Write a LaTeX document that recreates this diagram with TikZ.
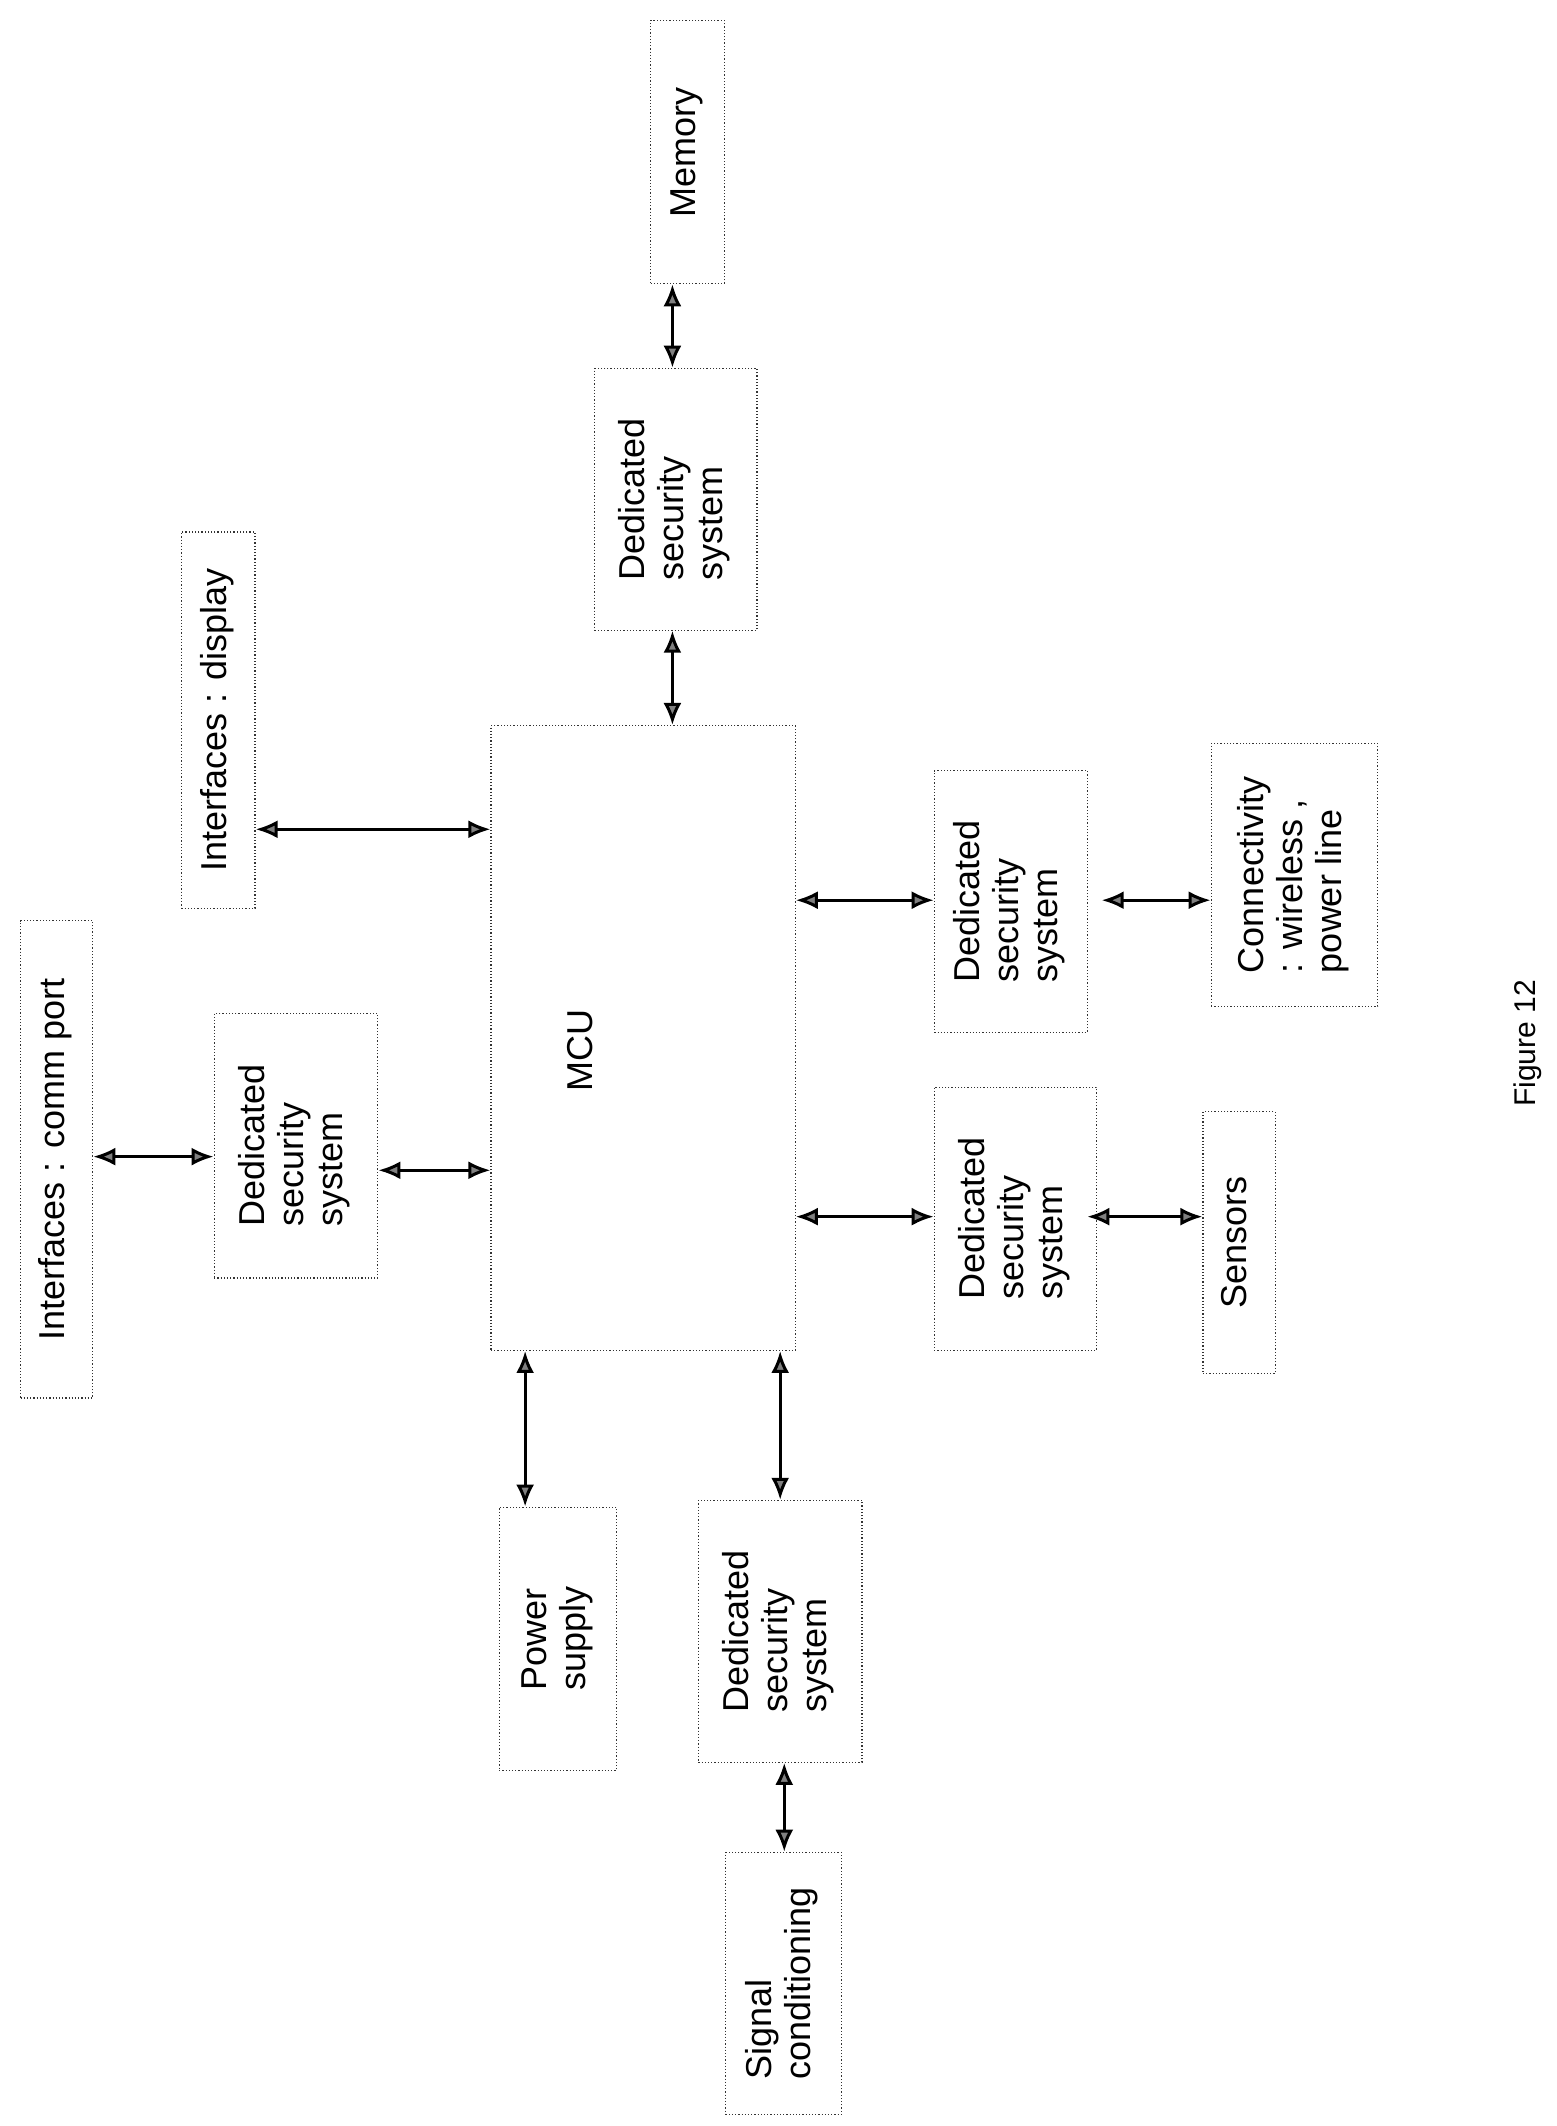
\documentclass[tikz,border=0pt]{standalone}
\usepackage{fontspec}
\setmainfont{Liberation Sans}
\usetikzlibrary{arrows.meta}
\begin{document}
\begin{tikzpicture}[x=0.682pt,y=-0.682pt,
  bx/.style={draw=black!80,densely dotted,line width=0.6pt,inner sep=0pt,font=\fontsize{18}{19.5}\selectfont},
  arr/.style={line width=1.5pt,{Latex[length=11pt,width=9pt,fill=gray]}-{Latex[length=11pt,width=9pt,fill=gray]}}]
\newcommand\rt[1]{\rotatebox{90}{\begin{tabular}{@{}l@{}}#1\end{tabular}}}
\useasboundingbox (0,0) rectangle (1140.8,1558.7);
\node[bx,minimum width=36.8pt,minimum height=131.6pt] (mem) at (504,111.5) {\raisebox{-20pt}{\rt{Memory}}};
\node[bx,minimum width=81.2pt,minimum height=130.9pt] (dsst) at (495.5,366) {\rt{Dedicated\\security\\system}};
\node[bx,minimum width=36.8pt,minimum height=188.2pt] (disp) at (160,528) {\rt{Interfaces : display}};
\node[bx,minimum width=152.1pt,minimum height=312.4pt] (mcu) at (471.5,761) {};
\node[font=\fontsize{18}{19.5}\selectfont] (mcut) at (425,770) {\rotatebox{90}{MCU}};
\node[bx,minimum width=36.1pt,minimum height=238.7pt] (comm) at (41.5,850) {\rt{Interfaces : comm port}};
\node[bx,minimum width=81.8pt,minimum height=132.3pt] (dssl) at (217,840) {\rt{Dedicated\\security\\system}};
\node[bx,minimum width=76.4pt,minimum height=130.9pt] (dssr1) at (741,661) {\rt{Dedicated\\security\\system}};
\node[bx,minimum width=83.2pt,minimum height=131.6pt] (conn) at (949,641.5) {\rt{Connectivity\\: wireless ,\\power line}};
\node[bx,minimum width=81.2pt,minimum height=131.6pt] (dssr2) at (744.5,893.5) {\rt{Dedicated\\security\\system}};
\node[bx,minimum width=36.1pt,minimum height=130.9pt] (sens) at (908.5,911) {\rt{Sensors}};
\node[bx,minimum width=58.7pt,minimum height=131.6pt] (pow) at (409,1201.5) {\rt{Power\\supply}};
\node[bx,minimum width=81.8pt,minimum height=130.9pt] (dssb) at (572,1196) {\rt{Dedicated\\security\\system}};
\node[bx,minimum width=58pt,minimum height=130.9pt] (sig) at (574.5,1454) {\rt{Signal\\conditioning}};
\node[font=\fontsize{15}{17}\selectfont] (fig) at (1120,765) {\rotatebox{90}{Figure 12}};
\coordinate (xa) at (493,0);
\coordinate (xb) at (385,0);
\coordinate (xc) at (572,0);
\coordinate (xd) at (575,0);
\coordinate (ya) at (0,608);
\coordinate (yb) at (0,848);
\coordinate (yc) at (0,858);
\coordinate (yd) at (0,660);
\coordinate (ye) at (0,892);
\draw[arr] (mem.south -| xa) -- (dsst.north -| xa);
\draw[arr] (dsst.south -| xa) -- (mcu.north -| xa);
\draw[arr] (disp.east |- ya) -- (mcu.west |- ya);
\draw[arr] (comm.east |- yb) -- (dssl.west |- yb);
\draw[arr] (dssl.east |- yc) -- (mcu.west |- yc);
\draw[arr] (mcu.east |- yd) -- (dssr1.west |- yd);
\draw[arr] ([xshift=7pt]dssr1.east |- yd) -- (conn.west |- yd);
\draw[arr] (mcu.east |- ye) -- (dssr2.west |- ye);
\draw[arr] ([xshift=-5pt]dssr2.east |- ye) -- (sens.west |- ye);
\draw[arr] (mcu.south -| xb) -- (pow.north -| xb);
\draw[arr] (mcu.south -| xc) -- (dssb.north -| xc);
\draw[arr] (dssb.south -| xd) -- (sig.north -| xd);
\end{tikzpicture}
\end{document}
